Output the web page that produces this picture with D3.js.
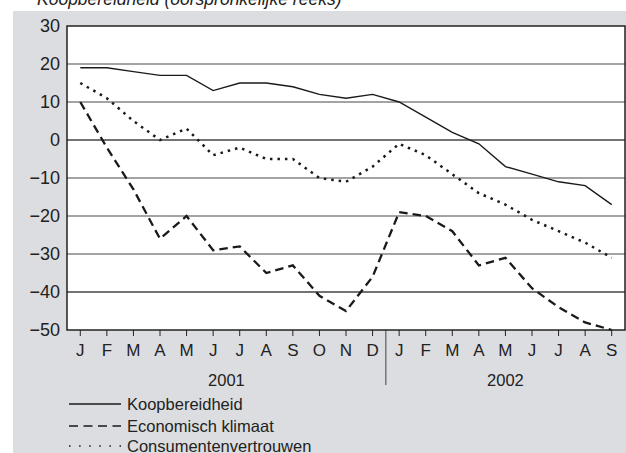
<!DOCTYPE html>
<html><head><meta charset="utf-8">
<script src="https://cdn.jsdelivr.net/npm/d3@7"></script>
<style>
html,body{margin:0;padding:0;background:#fff;}
svg{display:block;font-family:"Liberation Sans",Arial,sans-serif;}
</style></head>
<body>
<svg id="chart" width="626" height="453"></svg>
<script>
const title = "Koopbereidheid (oorspronkelijke reeks)";
const months = ["J","F","M","A","M","J","J","A","S","O","N","D","J","F","M","A","M","J","J","A","S"];
const years = ["2001","2002"];
const yearStart = [0, 12];
const yearEnd = [11, 20];
const yTicks = [30,20,10,0,-10,-20,-30,-40,-50];
const koopbereidheid = [19,19,18,17,17,13,15,15,14,12,11,12,10,6,2,-1,-7,-9,-11,-12,-17];
const economischKlimaat = [10,-2,-13,-26,-20,-29,-28,-35,-33,-41,-45,-36,-19,-20,-24,-33,-31,-39,-44,-48,-50];
const consumentenvertrouwen = [15,11,5,0,3,-4,-2,-5,-5,-10,-11,-7,-1,-4,-9,-14,-17,-21,-24,-27,-31];
const seriesNames = ["Koopbereidheid","Economisch klimaat","Consumentenvertrouwen"];

const svg = d3.select("#chart");
const L = 67, R = 625, T = 26, B = 330;
const x = d3.scaleLinear().domain([-0.5, months.length - 0.5]).range([L, R]);
const y = d3.scaleLinear().domain([-50, 30]).range([B, T]);
const fmt = v => (v < 0 ? "\u2212" + Math.abs(v) : String(v));

// background panel
svg.append("rect").attr("x", 13).attr("y", 11).attr("width", 626 - 13).attr("height", 453 - 11).attr("fill", "#dcdde0");
// title (partially clipped at top)
svg.append("text").attr("x", 37).attr("y", 5).attr("font-size", 17.5).attr("font-style", "italic").attr("fill", "#222").text(title);

// plot area
svg.append("rect").attr("x", L).attr("y", T).attr("width", R - L).attr("height", B - T).attr("fill", "#fff");

// gridlines
const grid = svg.append("g");
grid.selectAll("line").data(yTicks.filter(v => v > -50 && v < 30)).join("line")
  .attr("x1", L).attr("x2", R).attr("y1", d => y(d)).attr("y2", d => y(d))
  .attr("stroke", d => (d === 0 || d === -40) ? "#444" : "#858585")
  .attr("stroke-width", 1.5);

// y tick labels
svg.append("g").selectAll("text").data(yTicks).join("text")
  .attr("x", 60).attr("y", d => y(d)).attr("dy", "0.36em")
  .attr("text-anchor", "end").attr("font-size", 18).attr("fill", "#222")
  .text(fmt);

// x axis ticks and labels
const xa = svg.append("g");
xa.selectAll("line").data(months.map((m, i) => i)).join("line")
  .attr("x1", d => x(d)).attr("x2", d => x(d)).attr("y1", B).attr("y2", B + 6)
  .attr("stroke", "#222").attr("stroke-width", 1);
xa.selectAll("text").data(months).join("text")
  .attr("x", (d, i) => x(i)).attr("y", 356)
  .attr("text-anchor", "middle").attr("font-size", 17).attr("fill", "#222")
  .text(d => d);
// year separator
svg.append("line").attr("x1", x(11.5)).attr("x2", x(11.5)).attr("y1", B).attr("y2", 385)
  .attr("stroke", "#444").attr("stroke-width", 1);
svg.append("g").selectAll("text").data(years).join("text")
  .attr("x", (d, i) => (x(yearStart[i]) + x(yearEnd[i])) / 2).attr("y", 386)
  .attr("text-anchor", "middle").attr("font-size", 16.5).attr("fill", "#222")
  .text(d => d);

// lines
const styles = [
  {data: koopbereidheid, dash: null, width: 1.4},
  {data: economischKlimaat, dash: "8.5,5", width: 2.3},
  {data: consumentenvertrouwen, dash: "2.5,5", width: 2.5}
];
const line = d3.line().x((d, i) => x(i)).y(d => y(d));
styles.forEach(s => {
  svg.append("path").datum(s.data).attr("d", line)
    .attr("fill", "none").attr("stroke", "#1a1a1a")
    .attr("stroke-width", s.width)
    .attr("stroke-dasharray", s.dash);
});

// plot border
svg.append("rect").attr("x", L).attr("y", T).attr("width", R - L).attr("height", B - T)
  .attr("fill", "none").attr("stroke", "#222").attr("stroke-width", 1.5);

// legend
const lg = svg.append("g");
const legendY = [404, 426, 446];
const legendDash = [null, "9,5.5", "1.5,8.6"];
const legendW = [1.3, 1.5, 1.5];
seriesNames.forEach((n, i) => {
  lg.append("line").attr("x1", 69).attr("x2", 121).attr("y1", legendY[i]).attr("y2", legendY[i])
    .attr("stroke", "#1a1a1a").attr("stroke-width", legendW[i]).attr("stroke-dasharray", legendDash[i]);
  lg.append("text").attr("x", 127).attr("y", legendY[i]).attr("dy", "0.36em")
    .attr("font-size", 16.5).attr("fill", "#222").text(n);
});
</script>
</body></html>
